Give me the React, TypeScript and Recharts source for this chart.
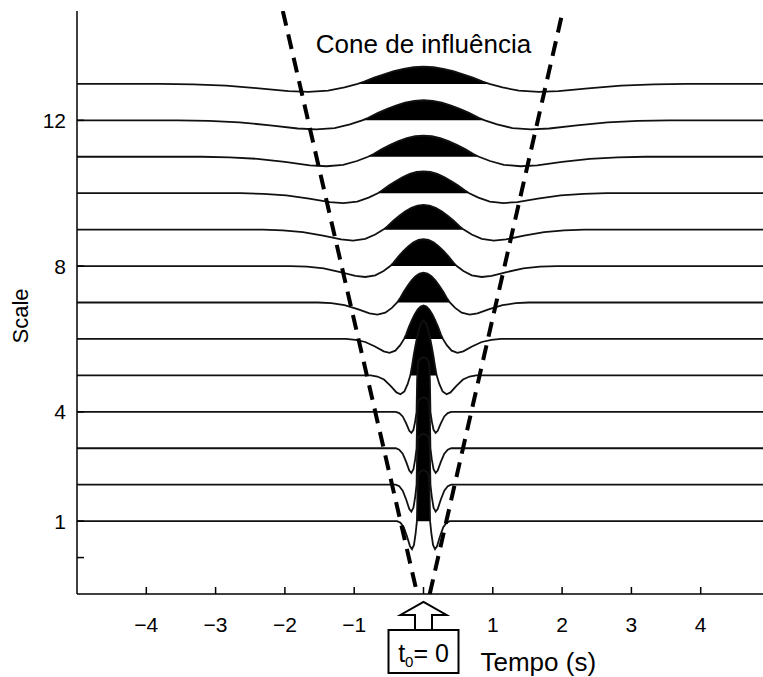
import React from 'react';
import { ComposedChart, Line, Area, XAxis, YAxis, Label, ReferenceLine } from 'recharts';

// wavelet rows, one per scale
const SCALES = [1, 2, 3, 4, 5, 6, 7, 8, 9, 10, 11, 12, 13];
// half-width of the positive lobe in seconds, read per row
const LOBE_WIDTH = [0.095, 0.1, 0.1, 0.1, 0.19, 0.28, 0.38, 0.48, 0.58, 0.66, 0.8, 0.885, 0.95];
// height of the black lobe and depth of the side dips (scale units)
const PEAK = [1.4, 1.4, 1.4, 1.5, 1.5, 0.92, 0.82, 0.74, 0.68, 0.6, 0.58, 0.55, 0.47];
const DIP = [0.77, 0.74, 0.68, 0.58, 0.52, 0.38, 0.33, 0.3, 0.3, 0.27, 0.26, 0.25, 0.22];
// small scales are drawn as narrow spikes
const SPIKE_SCALES = [1, 2, 3, 4];

// lobe profiles (u = multiples of the lobe half-width, f = share of peak / dip)
const HAT_U = [0, 0.15, 0.3, 0.45, 0.6, 0.75, 0.9, 1];
const HAT_F = [1, 0.97, 0.88, 0.74, 0.56, 0.36, 0.13, 0];
const SPIKE_U = [0, 0.5, 0.8, 0.92, 1];
const SPIKE_F = [1, 0.97, 0.9, 0.6, 0];
const DIP_U = [1.2, 1.45, 1.75, 2.05, 2.5, 3, 3.5, 4];
const DIP_F = [-0.45, -0.85, -1, -0.9, -0.55, -0.22, -0.06, 0];

// cone of influence, dashed
const CONE_LEFT_T = [-2.03, -0.09];
const CONE_LEFT_S = [15, -1];
const CONE_RIGHT_T = [0.09, 2.01];
const CONE_RIGHT_S = [-1, 15];

const X_TICKS = [-4, -3, -2, -1, 0, 1, 2, 3, 4];
const Y_TICKS = [0, 1, 4, 8, 12];

const FONT = '"Liberation Sans", Arial, Helvetica, sans-serif';

const rowMap = new Map<number, Record<string, number>>();
const put = (t: number, key: string, v: number) => {
  const k = Math.round(t * 100000) / 100000;
  let r = rowMap.get(k);
  if (!r) {
    r = { t: k };
    rowMap.set(k, r);
  }
  r[key] = v;
};

SCALES.forEach((s, i) => {
  const w = LOBE_WIDTH[i];
  const spike = SPIKE_SCALES.includes(s);
  const capU = spike ? SPIKE_U : HAT_U;
  const capF = spike ? SPIKE_F : HAT_F;
  const pts: [number, number][] = [[-5, s]];
  for (let j = DIP_U.length - 1; j >= 0; j--) pts.push([-DIP_U[j] * w, s + DIP[i] * DIP_F[j]]);
  for (let j = capU.length - 1; j >= 1; j--) pts.push([-capU[j] * w, s + PEAK[i] * capF[j]]);
  pts.push([0, s + PEAK[i]]);
  for (let j = 1; j < capU.length; j++) pts.push([capU[j] * w, s + PEAK[i] * capF[j]]);
  for (let j = 0; j < DIP_U.length; j++) pts.push([DIP_U[j] * w, s + DIP[i] * DIP_F[j]]);
  pts.push([5, s]);
  pts.forEach(([t, v]) => {
    put(t, `w${s}`, v);
    put(t, `p${s}`, Math.max(v, s));
  });
});
CONE_LEFT_T.forEach((t, i) => put(t, 'coneL', CONE_LEFT_S[i]));
CONE_RIGHT_T.forEach((t, i) => put(t, 'coneR', CONE_RIGHT_S[i]));

const data = Array.from(rowMap.values()).sort((a, b) => a.t - b.t);

const fmt = (v: number) => (v < 0 ? `\u2212${-v}` : `${v}`);

const BottomTick = ({ x, y, payload }: any) => (
  <g>
    <line x1={x} x2={x} y1={y} y2={y - 7} stroke="#000" strokeWidth={1.5} />
    {payload.value !== 0 && (
      <text x={x} y={y + 38} textAnchor="middle" fontSize={21} fill="#000" fontFamily={FONT}>
        {fmt(payload.value)}
      </text>
    )}
  </g>
);

const TopTick = ({ x, y }: any) => (
  <line x1={x} x2={x} y1={y} y2={y + 7} stroke="#000" strokeWidth={1.5} />
);

const LeftTick = ({ x, y, payload }: any) => (
  <g>
    <line x1={x} x2={x + 7} y1={y} y2={y} stroke="#000" strokeWidth={1.5} />
    {payload.value !== 0 && (
      <text x={x - 11} y={y + 7.5} textAnchor="end" fontSize={21} fill="#000" fontFamily={FONT}>
        {payload.value}
      </text>
    )}
  </g>
);

const ConeNote = ({ viewBox }: any) => {
  const cx = viewBox.x + (viewBox.width || 0) / 2;
  return (
    <text x={cx} y={viewBox.y + 42} textAnchor="middle" fontSize={26} fill="#000" fontFamily={FONT}>
      Cone de influência
    </text>
  );
};

const BottomNote = ({ viewBox }: any) => {
  const cx = viewBox.x + viewBox.width / 2;
  const ay = viewBox.y;
  const boxTop = ay + 36;
  const head = ay + 21;
  const arrow = `M${cx - 8.5},${boxTop} L${cx - 8.5},${head} L${cx - 23},${head} L${cx},${ay + 8} L${cx + 23},${head} L${cx + 8.5},${head} L${cx + 8.5},${boxTop}`;
  return (
    <g fontFamily={FONT}>
      <path d={arrow} fill="#fff" stroke="#000" strokeWidth={2} />
      <rect x={cx - 35} y={boxTop} width={70} height={43} fill="#fff" stroke="#000" strokeWidth={2} />
      <text x={cx} y={ay + 68} textAnchor="middle" fontSize={25} fill="#000">
        t<tspan fontSize={15} dy={5}>0</tspan>
        <tspan dy={-5}>= 0</tspan>
      </text>
      <text x={cx + 57} y={ay + 77} fontSize={26} fill="#000">
        Tempo (s)
      </text>
    </g>
  );
};

const ScaleNote = ({ viewBox }: any) => {
  const x = viewBox.x + 28;
  const y = viewBox.y + 305;
  return (
    <text x={x} y={y} transform={`rotate(-90, ${x}, ${y})`} textAnchor="middle" fontSize={22} fill="#000" fontFamily={FONT}>
      Scale
    </text>
  );
};

export default function App() {
  const axisLine = { stroke: '#000', strokeWidth: 1.5 };
  return (
    <div style={{ position: 'fixed', left: 0, top: 0, width: 763, height: 677, overflow: 'hidden', background: '#fff' }}>
      <ComposedChart width={780} height={677} data={data} margin={{ top: 11, right: 10, bottom: 0, left: 0 }}>
        <XAxis
          xAxisId="top"
          orientation="top"
          type="number"
          dataKey="t"
          domain={[-5, 5]}
          ticks={X_TICKS}
          interval={0}
          height={0}
          tickSize={0}
          tickMargin={0}
          tickLine={false}
          tick={TopTick}
          axisLine={axisLine}
          allowDataOverflow
        />
        <XAxis
          type="number"
          dataKey="t"
          domain={[-5, 5]}
          ticks={X_TICKS}
          interval={0}
          height={83}
          tickSize={0}
          tickMargin={0}
          tickLine={false}
          tick={BottomTick}
          axisLine={axisLine}
          allowDataOverflow
        >
          <Label content={BottomNote} />
        </XAxis>
        <YAxis
          type="number"
          domain={[-1, 15]}
          ticks={Y_TICKS}
          interval={0}
          width={77}
          tickSize={0}
          tickMargin={0}
          tickLine={false}
          tick={LeftTick}
          axisLine={axisLine}
          allowDataOverflow
        >
          <Label content={ScaleNote} />
        </YAxis>

        {SCALES.map((s) => (
          <Area
            key={`p${s}`}
            dataKey={`p${s}`}
            baseValue={s}
            type="linear"
            stroke="none"
            fill="#000"
            fillOpacity={1}
            connectNulls
            dot={false}
            activeDot={false}
            isAnimationActive={false}
          />
        ))}
        {SCALES.map((s) => (
          <Line
            key={`w${s}`}
            dataKey={`w${s}`}
            type="linear"
            stroke="#111"
            strokeWidth={1.8}
            connectNulls
            dot={false}
            activeDot={false}
            isAnimationActive={false}
          />
        ))}
        <Line dataKey="coneL" type="linear" stroke="#000" strokeWidth={4} strokeDasharray="15 9" connectNulls dot={false} activeDot={false} isAnimationActive={false} />
        <Line dataKey="coneR" type="linear" stroke="#000" strokeWidth={4} strokeDasharray="15 9" connectNulls dot={false} activeDot={false} isAnimationActive={false} />
        <ReferenceLine x={0} stroke="none" ifOverflow="visible" label={ConeNote} />
      </ComposedChart>
    </div>
  );
}
